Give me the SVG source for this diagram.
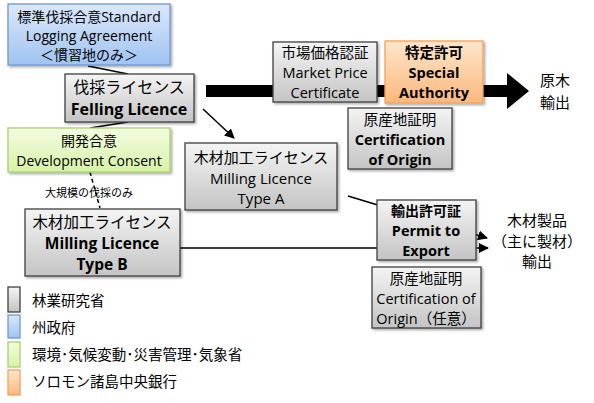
<svg xmlns="http://www.w3.org/2000/svg" width="594" height="403" viewBox="0 0 594 403">
<defs>
<linearGradient id="gGrey" x1="0" y1="0" x2="0" y2="1"><stop offset="0" stop-color="#f4f4f4"/><stop offset="1" stop-color="#c4c4c4"/></linearGradient>
<linearGradient id="gBlue" x1="0" y1="0" x2="0" y2="1"><stop offset="0" stop-color="#dbe8fb"/><stop offset="1" stop-color="#9fc3f1"/></linearGradient>
<linearGradient id="gGreen" x1="0" y1="0" x2="0" y2="1"><stop offset="0" stop-color="#f3fce0"/><stop offset="1" stop-color="#d8f2a8"/></linearGradient>
<linearGradient id="gOrange" x1="0" y1="0" x2="0" y2="1"><stop offset="0" stop-color="#fee6cc"/><stop offset="1" stop-color="#fbb87c"/></linearGradient>
<filter id="sh" x="-10%" y="-10%" width="130%" height="130%"><feDropShadow dx="1.5" dy="1.5" stdDeviation="1" flood-color="#000" flood-opacity="0.35"/></filter>
<marker id="ah" viewBox="0 0 10 10" refX="9" refY="5" markerWidth="10" markerHeight="10" markerUnits="userSpaceOnUse" orient="auto"><path d="M0,0 L10,5 L0,10 z" fill="#000"/></marker>
</defs>
<style>
text{font-family:"Open Sans","Noto Sans CJK JP",sans-serif;fill:#000;text-anchor:middle;dominant-baseline:central}
.g{fill:url(#gGrey);stroke:#404040;stroke-width:1.3}
.b{fill:url(#gBlue);stroke:#6f98d6;stroke-width:1.3}
.gr{fill:url(#gGreen);stroke:#a9d16e;stroke-width:1.3}
.o{fill:url(#gOrange);stroke:#f5a25a;stroke-width:1.3}
.t14{font-size:14px}
.t145{font-size:14.5px}
.t15{font-size:15px}
.t155{font-size:15.5px}
.t16{font-size:16px}
.bd{font-weight:bold}
.lg{font-size:14.5px;text-anchor:start}
.ln{stroke:#000;stroke-width:1.5;fill:none}
</style>
<g id="connectors">
<rect x="206" y="85" width="302" height="12" fill="#000"/>
<polygon points="507,73 529,91 507,109" fill="#000"/>
<line class="ln" x1="88" y1="66" x2="128" y2="74"/>
<line class="ln" x1="128" y1="122" x2="90" y2="128"/>
<line class="ln" x1="90" y1="172" x2="100" y2="208" stroke-dasharray="4,3"/>
<line class="ln" x1="203" y1="109" x2="234" y2="138" marker-end="url(#ah)"/>
<line class="ln" x1="348" y1="196" x2="487" y2="238" marker-end="url(#ah)"/>
<line class="ln" x1="180" y1="248" x2="488" y2="248" marker-end="url(#ah)"/>
</g>
<g id="standard-logging">
<rect class="b" x="8" y="4" width="162" height="61" filter="url(#sh)"/>
<text class="t14" x="89" y="16">標準伐採合意Standard</text>
<text class="t14" x="89" y="35">Logging Agreement</text>
<text class="t14" x="89" y="54">＜慣習地のみ＞</text>
</g>
<g id="felling">
<rect class="g" x="65" y="74" width="129" height="48" filter="url(#sh)"/>
<text class="t16" x="129" y="87">伐採ライセンス</text>
<text class="t16 bd" x="129" y="109">Felling Licence</text>
</g>
<g id="development">
<rect class="gr" x="8" y="128" width="162" height="44" filter="url(#sh)"/>
<text class="t14" x="89" y="140.5">開発合意</text>
<text class="t14" x="89" y="160">Development Consent</text>
</g>
<text x="89" y="192" style="font-size:11px">大規模の伐採のみ</text>
<g id="milling-b">
<rect class="g" x="25" y="209" width="155" height="67" filter="url(#sh)"/>
<text class="t155" x="102" y="221.5">木材加工ライセンス</text>
<text class="t155 bd" x="102" y="242.6">Milling Licence</text>
<text class="t155 bd" x="102" y="263.7">Type B</text>
</g>
<g id="milling-a">
<rect class="g" x="185" y="143" width="152" height="67" filter="url(#sh)"/>
<text class="t15" x="261" y="157">木材加工ライセンス</text>
<text class="t15" x="261" y="177.5">Milling Licence</text>
<text class="t15" x="261" y="198">Type A</text>
</g>
<g id="market-price">
<rect class="g" x="273" y="42" width="104" height="60" filter="url(#sh)"/>
<text class="t145" x="325" y="52.5">市場価格認証</text>
<text class="t145" x="325" y="72.3">Market Price</text>
<text class="t145" x="325" y="92">Certificate</text>
</g>
<g id="special-authority">
<rect class="o" x="385" y="41" width="98" height="62" filter="url(#sh)"/>
<text class="t145 bd" x="434" y="52">特定許可</text>
<text class="t145 bd" x="434" y="72">Special</text>
<text class="t145 bd" x="434" y="92">Authority</text>
</g>
<g id="roundlog-export">
<text class="t15" x="555" y="80">原木</text>
<text class="t15" x="555" y="102">輸出</text>
</g>
<g id="cert-origin">
<rect class="g" x="348" y="108" width="104" height="61" filter="url(#sh)"/>
<text class="t145" x="400" y="119">原産地証明</text>
<text class="t145 bd" x="400" y="139">Certification</text>
<text class="t145 bd" x="400" y="159">of Origin</text>
</g>
<g id="permit">
<rect class="g" x="377" y="200" width="99" height="60" filter="url(#sh)"/>
<text class="t14 bd" x="426" y="210.5">輸出許可証</text>
<text class="t145 bd" x="426" y="230.3">Permit to</text>
<text class="t145 bd" x="426" y="250.2">Export</text>
</g>
<g id="timber-export">
<text class="t15" x="537" y="220">木材製品</text>
<text class="t15" x="537" y="240.5">（主に製材）</text>
<text class="t15" x="537" y="261">輸出</text>
</g>
<g id="cert-origin-optional">
<rect class="g" x="372" y="267" width="109" height="61" filter="url(#sh)"/>
<text class="t145" x="426" y="278">原産地証明</text>
<text class="t145" x="426" y="298">Certification of</text>
<text class="t145" x="426" y="318">Origin（任意）</text>
</g>
<g id="legend">
<rect class="g" x="8" y="287" width="12" height="25"/>
<text class="lg" x="32" y="300">林業研究省</text>
<rect class="b" x="8" y="315" width="12" height="23"/>
<text class="lg" x="32" y="327">州政府</text>
<rect class="gr" x="8" y="342" width="12" height="25"/>
<text class="lg" x="32" y="354">環境･気候変動･災害管理･気象省</text>
<rect class="o" x="8" y="370" width="12" height="25"/>
<text class="lg" x="32" y="381">ソロモン諸島中央銀行</text>
</g>
</svg>
